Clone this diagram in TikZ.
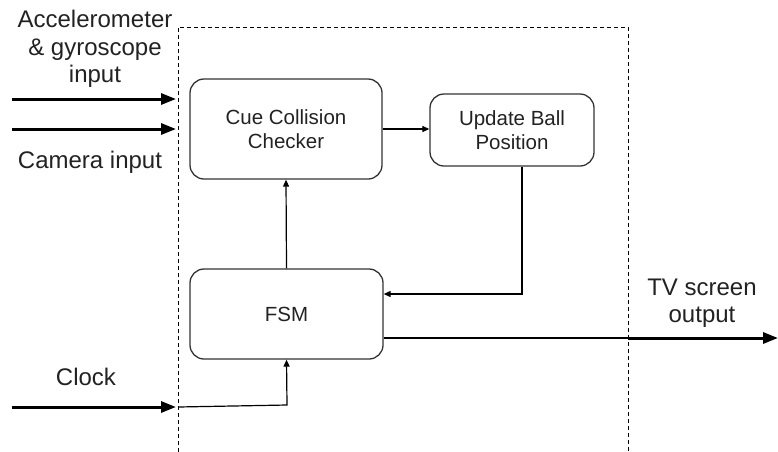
\documentclass[tikz,border=0pt]{standalone}
\usepackage{fontspec}
\setmainfont{Liberation Sans}
\usetikzlibrary{arrows.meta,calc}
\definecolor{ink}{HTML}{222222}
\definecolor{edge}{HTML}{333333}
\tikzset{
  block/.style={draw=edge, line width=1.3pt, rounded corners=14pt, inner sep=0pt,
    align=center, text=ink, font=\fontsize{20.5}{24.5}\selectfont},
  label/.style={inner sep=0pt, align=center, text=ink, font=\fontsize{24}{27.5}\selectfont},
  signal/.style={draw=black, line width=3pt, -{Triangle[length=15pt,width=11pt]}},
  wire/.style={draw=black, line width=1.2pt},
  flow/.style={wire, -{Triangle[length=7pt,width=6pt]}},
  boundary/.style={draw=black, line width=1pt, dash pattern=on 4pt off 3pt}
}
\begin{document}
\begin{tikzpicture}[x=1pt,y=-1pt]
  \useasboundingbox (0,0) rectangle (778,451);

  % system boundary (open at the bottom)
  \draw[boundary] (178,452) -- (178,27) -- (628,27) -- (628,452);

  % processing blocks
  \node[block, minimum width=192pt, minimum height=100pt] (cue) at (286,129) {Cue Collision\\Checker};
  \node[block, minimum width=164pt, minimum height=72pt] (upd) at (512,130) {Update Ball\\Position};
  \node[block, minimum width=193pt, minimum height=90pt] (fsm) at (286.5,314) {FSM};

  % external labels
  \node[label] (acclbl) at (95,49) {Accelerometer\\\& gyroscope\\input};
  \node[label, anchor=base] (camlbl) at (90,168) {Camera input};
  \node[label, anchor=base] (clklbl) at (86,385) {Clock};
  \node[label] (tvlbl) at (702,303) {TV screen\\output};

  % free ends of the external signals
  \coordinate (accin) at (12,99);
  \coordinate (accend) at (176,99);
  \coordinate (camin) at (12,129);
  \coordinate (camend) at (176,129);
  \coordinate (clkin) at (12,407);
  \coordinate (clkend) at (176,407);
  \coordinate (clkport) at (178,407);
  \coordinate (clkbend) at (287,405);
  \coordinate (tvport) at (628,338);
  \coordinate (tvout) at (778,338);

  % inputs
  \draw[signal] (accin) -- (accend);
  \draw[signal] (camin) -- (camend);
  \draw[signal] (clkin) -- (clkend);

  % internal connections
  \draw[flow] (clkport) -- (clkbend) -- (fsm.south);
  \draw[flow] (fsm.north) -- (cue.south);
  \draw[flow] (cue.east) -- (cue.east -| upd.west);
  \draw[flow] ([xshift=10pt]upd.south) |- ([yshift=20pt]fsm.east);

  % output
  \draw[wire] ([yshift=-24pt]fsm.east) -- (tvport);
  \draw[signal] (tvport) -- (tvout);
\end{tikzpicture}
\end{document}
